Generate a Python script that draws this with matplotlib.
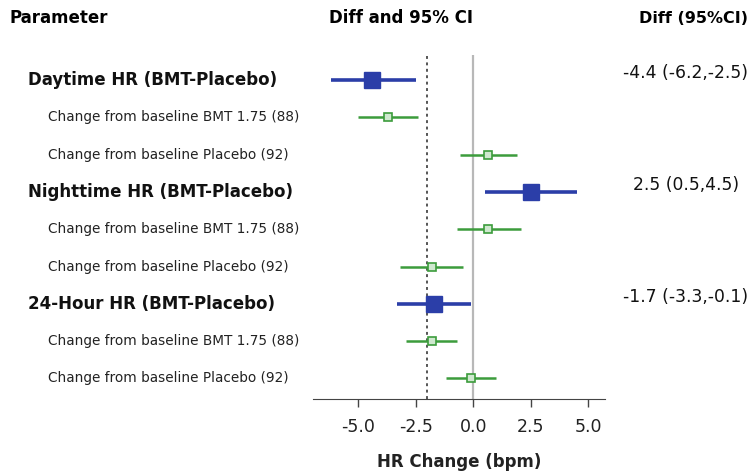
import matplotlib.pyplot as plt
from matplotlib.transforms import blended_transform_factory

plt.rcParams['font.family'] = ['DejaVu Sans']

# rows, top to bottom
labels = [
    "Daytime HR (BMT-Placebo)",
    "Change from baseline BMT 1.75 (88)",
    "Change from baseline Placebo (92)",
    "Nighttime HR (BMT-Placebo)",
    "Change from baseline BMT 1.75 (88)",
    "Change from baseline Placebo (92)",
    "24-Hour HR (BMT-Placebo)",
    "Change from baseline BMT 1.75 (88)",
    "Change from baseline Placebo (92)",
]
is_diff = [True, False, False, True, False, False, True, False, False]
est = [-4.4, -3.7, 0.65, 2.5, 0.65, -1.8, -1.7, -1.8, -0.1]
lo = [-6.2, -5.0, -0.6, 0.5, -0.7, -3.2, -3.3, -2.95, -1.2]
hi = [-2.5, -2.4, 1.9, 4.5, 2.05, -0.45, -0.1, -0.7, 1.0]
diff_text = ["-4.4 (-6.2,-2.5)", "2.5 (0.5,4.5)", "-1.7 (-3.3,-0.1)"]
xticks = [-5.0, -2.5, 0.0, 2.5, 5.0]
ref_line = -2.0

blue = "#2b3ea8"
green = "#3c9c3c"

fig = plt.figure(figsize=(7.53, 4.75), dpi=100)
ax = fig.add_axes([0.4157, 0.16, 0.388, 0.724])

ax.axvline(0, color="#b8b8b8", lw=1.6, zorder=1)
ax.axvline(ref_line, color="#555555", lw=1.4, ls=(0, (1.5, 1.8)), zorder=1)

for i, (d, e, l, h) in enumerate(zip(is_diff, est, lo, hi)):
    if d:
        ax.plot([l, h], [i, i], color=blue, lw=2.6, zorder=2, solid_capstyle="butt")
        ax.plot(e, i, marker="s", ms=11, color=blue, zorder=3)
    else:
        ax.plot([l, h], [i, i], color=green, lw=1.8, zorder=2, solid_capstyle="butt")
        ax.plot(e, i, marker="s", ms=5.5, mfc="#cfe8cf", mec=green, mew=1.2, zorder=3)

ax.set_ylim(8.55, -0.67)
ax.set_xlim(-6.97, 5.73)
ax.set_yticks([])
ax.set_xticks(xticks)
ax.set_xticklabels([f"{t:.1f}" for t in xticks], fontsize=12.5, color="#222222")
ax.tick_params(axis="x", length=6, width=1, color="#444444", pad=8)
for s in ["top", "right", "left"]:
    ax.spines[s].set_visible(False)
ax.spines["bottom"].set_color("#444444")
ax.set_xlabel("HR Change (bpm)", fontsize=12, fontweight="bold", labelpad=12, color="#222222")

tr = blended_transform_factory(fig.transFigure, ax.transData)
k = 0
for i, (lab, d) in enumerate(zip(labels, is_diff)):
    if d:
        fig.text(0.037, i, lab, transform=tr, fontsize=12, fontweight="bold",
                 va="center", ha="left", color="#111111")
        fig.text(0.911, i - 0.19, diff_text[k], transform=tr, fontsize=12.3,
                 va="center", ha="center", color="#111111")
        k += 1
    else:
        fig.text(0.064, i, lab, transform=tr, fontsize=9.8,
                 va="center", ha="left", color="#222222")

fig.text(0.013, 0.962, "Parameter", fontsize=12, fontweight="bold", va="center", ha="left")
fig.text(0.533, 0.962, "Diff and 95% CI", fontsize=12, fontweight="bold", va="center", ha="center")
fig.text(0.994, 0.962, "Diff (95%CI)", fontsize=11.5, fontweight="bold", va="center", ha="right")

fig.savefig("out.png", dpi=100)
